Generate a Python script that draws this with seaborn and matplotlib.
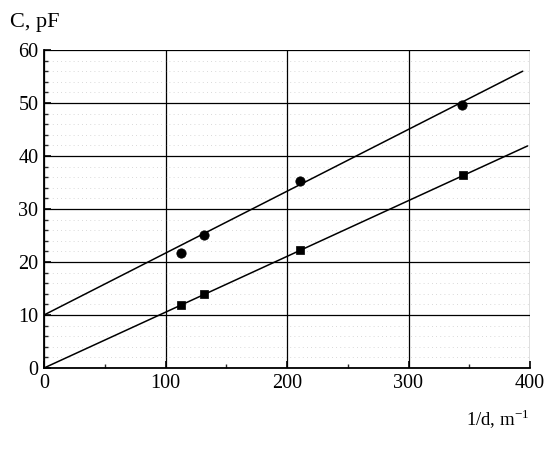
import matplotlib
matplotlib.use("Agg")
import matplotlib.pyplot as plt
import seaborn as sns
import pandas as pd
from matplotlib.ticker import MultipleLocator

# data
circle_x = [113, 132, 211, 344]
circle_y = [21.7, 25.1, 35.3, 49.7]
square_x = [113, 132, 211, 345]
square_y = [11.9, 14.0, 22.3, 36.4]
upper_fit_x = [0, 394]
upper_fit_y = [10.0, 56.0]
lower_fit_x = [0, 398]
lower_fit_y = [0.0, 41.9]
x_ticks = [0, 100, 200, 300, 400]
y_ticks = [0, 10, 20, 30, 40, 50, 60]

sns.set_style("white")
plt.rcParams['font.family'] = ['Liberation Serif', 'DejaVu Serif']
plt.rcParams['text.color'] = 'black'

fig = plt.figure(figsize=(5.52, 4.59), dpi=100)
ax = fig.add_axes([44/552, 1-368/459, (530-44)/552, (368-50)/459])

df_c = pd.DataFrame({"x": circle_x, "y": circle_y})
df_s = pd.DataFrame({"x": square_x, "y": square_y})
df_u = pd.DataFrame({"x": upper_fit_x, "y": upper_fit_y})
df_l = pd.DataFrame({"x": lower_fit_x, "y": lower_fit_y})

sns.lineplot(data=df_u, x="x", y="y", ax=ax, color="black", lw=1.1)
sns.lineplot(data=df_l, x="x", y="y", ax=ax, color="black", lw=1.1)
sns.scatterplot(data=df_c, x="x", y="y", ax=ax, marker="o", s=45, color="black", edgecolor="black", zorder=5)
sns.scatterplot(data=df_s, x="x", y="y", ax=ax, marker="s", s=40, color="black", edgecolor="black", zorder=5)

ax.set_xlim(0, 400)
ax.set_ylim(0, 60)
ax.set_xticks(x_ticks)
ax.set_yticks(y_ticks)
ax.xaxis.set_minor_locator(MultipleLocator(50))
ax.yaxis.set_minor_locator(MultipleLocator(2))
ax.grid(True, which="major", color="black", lw=0.9)
ax.grid(True, which="minor", axis="y", color="#cccccc", lw=0.6, ls=(0, (1, 4)))
ax.set_axisbelow(True)

for s in ["top", "right"]:
    ax.spines[s].set_visible(False)
for s in ["left", "bottom"]:
    ax.spines[s].set_color("black")
    ax.spines[s].set_linewidth(1.3)

ax.tick_params(axis="both", which="major", direction="in", length=5, width=1.2,
               labelsize=14.5, colors="black", left=True, bottom=True, pad=4)
ax.tick_params(axis="both", which="minor", direction="in", length=3, width=1.0,
               left=True, bottom=True)
ax.set_xlabel("")
ax.set_ylabel("")

fig.text(10/552, 1-22/459, "C, pF", fontsize=16, va="center", ha="left", color="black")
fig.text(529/552, 1-419/459, r"1/d, m$^{\mathregular{-1}}$", fontsize=13.5, va="center", ha="right",
         color="black")

fig.savefig("out.png", dpi=100, facecolor="white")
